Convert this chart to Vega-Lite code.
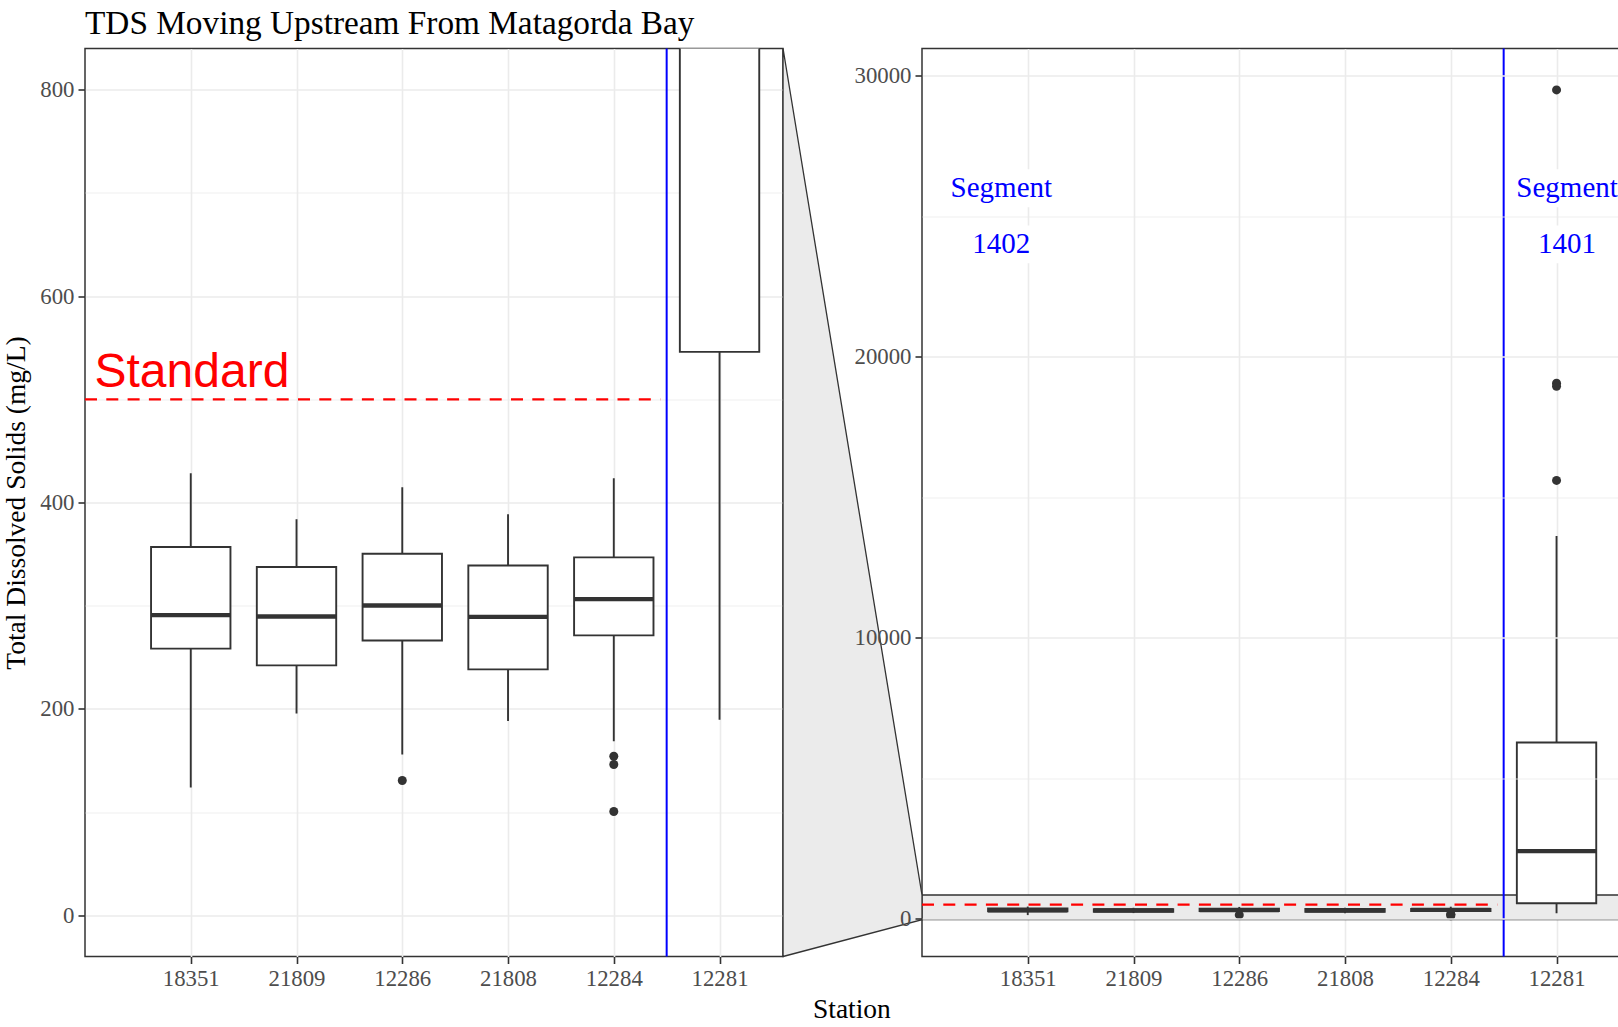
{
  "$schema": "https://vega.github.io/schema/vega-lite/v6.json",
  "padding": {"left": 1, "top": 6.5, "right": 0, "bottom": 0},
  "background": "white",
  "bounds": "flush",
  "spacing": 139,
  "title": {"text": "TDS Moving Upstream From Matagorda Bay", "anchor": "start", "frame": "group", "font": "Liberation Serif", "fontSize": 33.3, "fontWeight": "normal", "color": "#000000", "baseline": "alphabetic", "offset": -22},
  "config": {
    "view": {"stroke": "#333333", "strokeWidth": 1.5},
    "axis": {"domain": false, "labelFont": "Liberation Serif", "labelFontSize": 22.8, "labelColor": "#4d4d4d", "tickColor": "#333333", "tickWidth": 1.6, "tickSize": 7, "labelPadding": 4, "gridColor": "#ebebeb", "gridWidth": 1.6, "titleFont": "Liberation Serif", "titleFontSize": 27.5, "titleFontWeight": "normal", "titleColor": "#000000", "labelOverlap": false, "labelFlush": false}
  },
  "datasets": {
    "stats": [
      {"station": "18351", "pos": 1, "lower": 123.7, "q1": 258.4, "median": 290.8, "q3": 356.8, "upper": 428.3},
      {"station": "21809", "pos": 2, "lower": 195.5, "q1": 242.1, "median": 289.5, "q3": 337.5, "upper": 383.8},
      {"station": "12286", "pos": 3, "lower": 155.8, "q1": 266.3, "median": 300.2, "q3": 350.3, "upper": 414.9},
      {"station": "21808", "pos": 4, "lower": 188.3, "q1": 238.3, "median": 289.1, "q3": 338.9, "upper": 388.6},
      {"station": "12284", "pos": 5, "lower": 168.6, "q1": 271.2, "median": 306.4, "q3": 346.8, "upper": 423.5},
      {"station": "12281", "pos": 6, "lower": 189.5, "q1": 546, "median": 2400, "q3": 6270, "upper": 13620}
    ],
    "outliers": [
      {"station": "12286", "pos": 3, "tds": 130.6},
      {"station": "12284", "pos": 5, "tds": 154.1},
      {"station": "12284", "pos": 5, "tds": 146.1},
      {"station": "12284", "pos": 5, "tds": 100.5},
      {"station": "12281", "pos": 6, "tds": 29500},
      {"station": "12281", "pos": 6, "tds": 19060},
      {"station": "12281", "pos": 6, "tds": 18950},
      {"station": "12281", "pos": 6, "tds": 15600}
    ],
    "standard": [{"pos": 0, "pos2": 5.44, "tds": 500}],
    "segmentBreak": [{"pos": 5.5}],
    "standardLabel": [{"pos": 0.09, "tds": 500, "label": "Standard"}],
    "segmentLabels": [
      {"pos": 0.75, "tds": 26000, "label": "Segment"},
      {"pos": 0.75, "tds": 24000, "label": "1402"},
      {"pos": 6.1, "tds": 26000, "label": "Segment"},
      {"pos": 6.1, "tds": 24000, "label": "1401"}
    ],
    "zoomBand": [{"pos": 0, "pos2": 6.6, "lo": -40, "hi": 840}],
    "zoomLink": [{"pos": -1.314, "lo": -1350, "hi": 30975}, {"pos": 0, "lo": -40, "hi": 840}]
  },
  "hconcat": [
    {
      "width": 698,
      "height": 908,
      "encoding": {
        "x": {"field": "pos", "type": "quantitative", "scale": {"domain": [0, 6.6], "nice": false, "zero": false, "padding": 0},
          "axis": {"values": [1, 2, 3, 4, 5, 6], "labelExpr": "['18351','21809','12286','21808','12284','12281'][datum.value - 1]", "title": "Station", "titleX": 766.4, "titleY": 60.7, "titleBaseline": "alphabetic", "titleAlign": "center"}}
      },
      "layer": [
        {
          "data": {"name": "stats"},
          "mark": {"type": "rule", "color": "#333333", "strokeWidth": 1.9, "clip": true},
          "encoding": {
            "y": {"field": "lower", "type": "quantitative", "scale": {"domain": [-40, 840], "nice": false, "zero": false, "padding": 0},
              "axis": {"values": [0, 100, 200, 300, 400, 500, 600, 700, 800], "labelExpr": "datum.value % 200 === 0 ? datum.label : ''", "tickOpacity": {"condition": {"test": "datum.value % 200 !== 0", "value": 0}, "value": 1}, "gridWidth": {"condition": {"test": "datum.value % 200 !== 0", "value": 0.8}, "value": 1.6}, "title": "Total Dissolved Solids (mg/L)", "titleAngle": 270, "titleX": -60.6, "titleY": 454, "titleBaseline": "alphabetic", "titleAlign": "center"}},
            "y2": {"field": "upper"}
          }
        },
        {
          "data": {"name": "stats"},
          "mark": {"type": "bar", "orient": "vertical", "fill": "white", "stroke": "#333333", "strokeWidth": 1.9, "size": 79.4, "clip": true},
          "encoding": {
            "y": {"field": "q1", "type": "quantitative", "scale": {"domain": [-40, 840], "nice": false, "zero": false, "padding": 0},
              "axis": {"values": [0, 100, 200, 300, 400, 500, 600, 700, 800], "labelExpr": "datum.value % 200 === 0 ? datum.label : ''", "tickOpacity": {"condition": {"test": "datum.value % 200 !== 0", "value": 0}, "value": 1}, "gridWidth": {"condition": {"test": "datum.value % 200 !== 0", "value": 0.8}, "value": 1.6}, "title": "Total Dissolved Solids (mg/L)", "titleAngle": 270, "titleX": -60.6, "titleY": 454, "titleBaseline": "alphabetic", "titleAlign": "center"}},
            "y2": {"field": "q3"}
          }
        },
        {
          "data": {"name": "stats"},
          "mark": {"type": "tick", "orient": "horizontal", "color": "#333333", "opacity": 1, "size": 79.4, "thickness": 4.3, "clip": true},
          "encoding": {
            "y": {"field": "median", "type": "quantitative", "scale": {"domain": [-40, 840], "nice": false, "zero": false, "padding": 0},
              "axis": {"values": [0, 100, 200, 300, 400, 500, 600, 700, 800], "labelExpr": "datum.value % 200 === 0 ? datum.label : ''", "tickOpacity": {"condition": {"test": "datum.value % 200 !== 0", "value": 0}, "value": 1}, "gridWidth": {"condition": {"test": "datum.value % 200 !== 0", "value": 0.8}, "value": 1.6}, "title": "Total Dissolved Solids (mg/L)", "titleAngle": 270, "titleX": -60.6, "titleY": 454, "titleBaseline": "alphabetic", "titleAlign": "center"}}
          }
        },
        {
          "data": {"name": "outliers"},
          "mark": {"type": "circle", "color": "#333333", "opacity": 1, "size": 81, "clip": true},
          "encoding": {
            "y": {"field": "tds", "type": "quantitative", "scale": {"domain": [-40, 840], "nice": false, "zero": false, "padding": 0},
              "axis": {"values": [0, 100, 200, 300, 400, 500, 600, 700, 800], "labelExpr": "datum.value % 200 === 0 ? datum.label : ''", "tickOpacity": {"condition": {"test": "datum.value % 200 !== 0", "value": 0}, "value": 1}, "gridWidth": {"condition": {"test": "datum.value % 200 !== 0", "value": 0.8}, "value": 1.6}, "title": "Total Dissolved Solids (mg/L)", "titleAngle": 270, "titleX": -60.6, "titleY": 454, "titleBaseline": "alphabetic", "titleAlign": "center"}}
          }
        },
        {
          "data": {"name": "standard"},
          "mark": {"type": "rule", "color": "#ff0000", "strokeWidth": 2.3, "strokeDash": [12, 9.3]},
          "encoding": {
            "x2": {"field": "pos2"},
            "y": {"field": "tds", "type": "quantitative", "scale": {"domain": [-40, 840], "nice": false, "zero": false, "padding": 0},
              "axis": {"values": [0, 100, 200, 300, 400, 500, 600, 700, 800], "labelExpr": "datum.value % 200 === 0 ? datum.label : ''", "tickOpacity": {"condition": {"test": "datum.value % 200 !== 0", "value": 0}, "value": 1}, "gridWidth": {"condition": {"test": "datum.value % 200 !== 0", "value": 0.8}, "value": 1.6}, "title": "Total Dissolved Solids (mg/L)", "titleAngle": 270, "titleX": -60.6, "titleY": 454, "titleBaseline": "alphabetic", "titleAlign": "center"}}
          }
        },
        {
          "data": {"name": "segmentBreak"},
          "mark": {"type": "rule", "color": "#0000ff", "strokeWidth": 2},
          "encoding": {}
        },
        {
          "data": {"name": "standardLabel"},
          "mark": {"type": "text", "color": "#ff0000", "font": "Liberation Sans", "fontSize": 48, "align": "left", "baseline": "alphabetic", "dy": -12.6},
          "encoding": {
            "y": {"field": "tds", "type": "quantitative", "scale": {"domain": [-40, 840], "nice": false, "zero": false, "padding": 0},
              "axis": {"values": [0, 100, 200, 300, 400, 500, 600, 700, 800], "labelExpr": "datum.value % 200 === 0 ? datum.label : ''", "tickOpacity": {"condition": {"test": "datum.value % 200 !== 0", "value": 0}, "value": 1}, "gridWidth": {"condition": {"test": "datum.value % 200 !== 0", "value": 0.8}, "value": 1.6}, "title": "Total Dissolved Solids (mg/L)", "titleAngle": 270, "titleX": -60.6, "titleY": 454, "titleBaseline": "alphabetic", "titleAlign": "center"}},
            "text": {"field": "label"}
          }
        }
      ]
    },
    {
      "width": 698,
      "height": 908,
      "encoding": {
        "x": {"field": "pos", "type": "quantitative", "scale": {"domain": [0, 6.6], "nice": false, "zero": false, "padding": 0},
          "axis": {"values": [1, 2, 3, 4, 5, 6], "labelExpr": "['18351','21809','12286','21808','12284','12281'][datum.value - 1]", "title": null}}
      },
      "layer": [
        {
          "data": {"name": "zoomBand"},
          "mark": {"type": "rect", "fill": "#ebebeb", "stroke": "#333333", "strokeWidth": 1.3},
          "encoding": {
            "x2": {"field": "pos2"},
            "y": {"field": "lo", "type": "quantitative", "scale": {"domain": [-1350, 30975], "nice": false, "zero": false, "padding": 0},
              "axis": {"values": [0, 5000, 10000, 15000, 20000, 25000, 30000], "format": "d", "labelExpr": "datum.value % 10000 === 0 ? datum.label : ''", "tickOpacity": {"condition": {"test": "datum.value % 10000 !== 0", "value": 0}, "value": 1}, "gridWidth": {"condition": {"test": "datum.value % 10000 !== 0", "value": 0.8}, "value": 1.6}, "title": null, "zindex": 1}},
            "y2": {"field": "hi"}
          }
        },
        {
          "data": {"name": "zoomLink"},
          "mark": {"type": "area", "orient": "vertical", "fill": "#ebebeb", "stroke": "#333333", "strokeWidth": 1.3, "clip": false},
          "encoding": {
            "y": {"field": "lo", "type": "quantitative", "scale": {"domain": [-1350, 30975], "nice": false, "zero": false, "padding": 0},
              "axis": {"values": [0, 5000, 10000, 15000, 20000, 25000, 30000], "format": "d", "labelExpr": "datum.value % 10000 === 0 ? datum.label : ''", "tickOpacity": {"condition": {"test": "datum.value % 10000 !== 0", "value": 0}, "value": 1}, "gridWidth": {"condition": {"test": "datum.value % 10000 !== 0", "value": 0.8}, "value": 1.6}, "title": null, "zindex": 1}},
            "y2": {"field": "hi"}
          }
        },
        {
          "data": {"name": "stats"},
          "mark": {"type": "rule", "color": "#333333", "strokeWidth": 1.9},
          "encoding": {
            "y": {"field": "lower", "type": "quantitative", "scale": {"domain": [-1350, 30975], "nice": false, "zero": false, "padding": 0},
              "axis": {"values": [0, 5000, 10000, 15000, 20000, 25000, 30000], "format": "d", "labelExpr": "datum.value % 10000 === 0 ? datum.label : ''", "tickOpacity": {"condition": {"test": "datum.value % 10000 !== 0", "value": 0}, "value": 1}, "gridWidth": {"condition": {"test": "datum.value % 10000 !== 0", "value": 0.8}, "value": 1.6}, "title": null, "zindex": 1}},
            "y2": {"field": "upper"}
          }
        },
        {
          "data": {"name": "stats"},
          "mark": {"type": "bar", "orient": "vertical", "fill": "white", "stroke": "#333333", "strokeWidth": 1.9, "size": 79.4},
          "encoding": {
            "y": {"field": "q1", "type": "quantitative", "scale": {"domain": [-1350, 30975], "nice": false, "zero": false, "padding": 0},
              "axis": {"values": [0, 5000, 10000, 15000, 20000, 25000, 30000], "format": "d", "labelExpr": "datum.value % 10000 === 0 ? datum.label : ''", "tickOpacity": {"condition": {"test": "datum.value % 10000 !== 0", "value": 0}, "value": 1}, "gridWidth": {"condition": {"test": "datum.value % 10000 !== 0", "value": 0.8}, "value": 1.6}, "title": null, "zindex": 1}},
            "y2": {"field": "q3"}
          }
        },
        {
          "data": {"name": "stats"},
          "mark": {"type": "tick", "orient": "horizontal", "color": "#333333", "opacity": 1, "size": 79.4, "thickness": 4.3},
          "encoding": {
            "y": {"field": "median", "type": "quantitative", "scale": {"domain": [-1350, 30975], "nice": false, "zero": false, "padding": 0},
              "axis": {"values": [0, 5000, 10000, 15000, 20000, 25000, 30000], "format": "d", "labelExpr": "datum.value % 10000 === 0 ? datum.label : ''", "tickOpacity": {"condition": {"test": "datum.value % 10000 !== 0", "value": 0}, "value": 1}, "gridWidth": {"condition": {"test": "datum.value % 10000 !== 0", "value": 0.8}, "value": 1.6}, "title": null, "zindex": 1}}
          }
        },
        {
          "data": {"name": "outliers"},
          "mark": {"type": "circle", "color": "#333333", "opacity": 1, "size": 81},
          "encoding": {
            "y": {"field": "tds", "type": "quantitative", "scale": {"domain": [-1350, 30975], "nice": false, "zero": false, "padding": 0},
              "axis": {"values": [0, 5000, 10000, 15000, 20000, 25000, 30000], "format": "d", "labelExpr": "datum.value % 10000 === 0 ? datum.label : ''", "tickOpacity": {"condition": {"test": "datum.value % 10000 !== 0", "value": 0}, "value": 1}, "gridWidth": {"condition": {"test": "datum.value % 10000 !== 0", "value": 0.8}, "value": 1.6}, "title": null, "zindex": 1}}
          }
        },
        {
          "data": {"name": "standard"},
          "mark": {"type": "rule", "color": "#ff0000", "strokeWidth": 2.3, "strokeDash": [12, 9.3]},
          "encoding": {
            "x2": {"field": "pos2"},
            "y": {"field": "tds", "type": "quantitative", "scale": {"domain": [-1350, 30975], "nice": false, "zero": false, "padding": 0},
              "axis": {"values": [0, 5000, 10000, 15000, 20000, 25000, 30000], "format": "d", "labelExpr": "datum.value % 10000 === 0 ? datum.label : ''", "tickOpacity": {"condition": {"test": "datum.value % 10000 !== 0", "value": 0}, "value": 1}, "gridWidth": {"condition": {"test": "datum.value % 10000 !== 0", "value": 0.8}, "value": 1.6}, "title": null, "zindex": 1}}
          }
        },
        {
          "data": {"name": "segmentBreak"},
          "mark": {"type": "rule", "color": "#0000ff", "strokeWidth": 2},
          "encoding": {}
        },
        {
          "data": {"name": "segmentLabels"},
          "mark": {"type": "point", "shape": "M-1,-0.35L1,-0.35L1,0.35L-1,0.35Z", "filled": true, "fill": "white", "stroke": null, "opacity": 1, "size": 11664},
          "encoding": {
            "y": {"field": "tds", "type": "quantitative", "scale": {"domain": [-1350, 30975], "nice": false, "zero": false, "padding": 0},
              "axis": {"values": [0, 5000, 10000, 15000, 20000, 25000, 30000], "format": "d", "labelExpr": "datum.value % 10000 === 0 ? datum.label : ''", "tickOpacity": {"condition": {"test": "datum.value % 10000 !== 0", "value": 0}, "value": 1}, "gridWidth": {"condition": {"test": "datum.value % 10000 !== 0", "value": 0.8}, "value": 1.6}, "title": null, "zindex": 1}}
          }
        },
        {
          "data": {"name": "segmentLabels"},
          "mark": {"type": "text", "color": "#0000ff", "font": "Liberation Serif", "fontSize": 29, "align": "center", "baseline": "middle"},
          "encoding": {
            "y": {"field": "tds", "type": "quantitative", "scale": {"domain": [-1350, 30975], "nice": false, "zero": false, "padding": 0},
              "axis": {"values": [0, 5000, 10000, 15000, 20000, 25000, 30000], "format": "d", "labelExpr": "datum.value % 10000 === 0 ? datum.label : ''", "tickOpacity": {"condition": {"test": "datum.value % 10000 !== 0", "value": 0}, "value": 1}, "gridWidth": {"condition": {"test": "datum.value % 10000 !== 0", "value": 0.8}, "value": 1.6}, "title": null, "zindex": 1}},
            "text": {"field": "label"}
          }
        }
      ]
    }
  ]
}
